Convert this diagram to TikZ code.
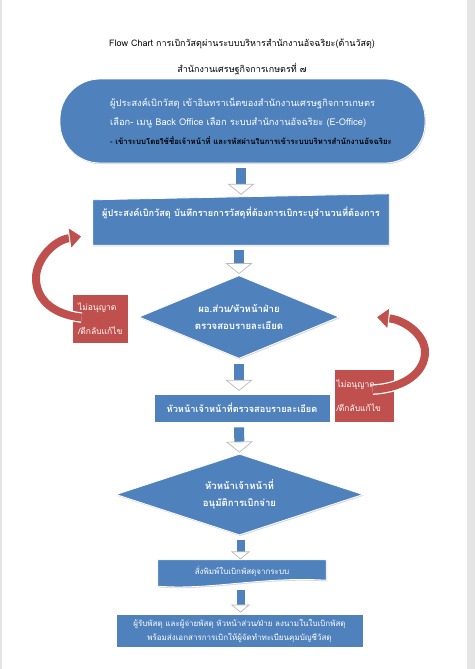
\documentclass[tikz,border=0pt]{standalone}
\usepackage{fontspec}
\newfontfamily\thaifont[Script=Thai]{Loma}
\usepackage{tikz}
\usetikzlibrary{arrows.meta,backgrounds,calc,shadows,shapes.geometric}
\definecolor{flowblue}{HTML}{4F81BD}
\definecolor{flowred}{HTML}{C0504D}
\definecolor{pageedge}{HTML}{E4E4E4}
\tikzset{
  softshadow/.style={drop shadow={shadow xshift=0.8pt,shadow yshift=-1.2pt,opacity=0.3}},
  titletext/.style={inner sep=0pt,font=\thaifont\fontsize{9}{10}\selectfont},
  terminal/.style={rectangle,rounded corners=40pt,fill=flowblue,draw=white,line width=0.8pt,softshadow,
    minimum width=365pt,minimum height=84pt,inner sep=0pt,text=white,align=left,
    font=\thaifont\fontsize{9.3}{19}\selectfont},
  stepbox/.style={rectangle,fill=flowblue,draw=white,line width=0.8pt,softshadow,
    inner sep=0pt,text=white,align=center,font=\thaifont\fontsize{9.2}{15}\selectfont\bfseries},
  textonly/.style={rectangle,inner sep=0pt,text=white,align=center,
    font=\thaifont\fontsize{9.2}{15}\selectfont\bfseries},
  decision/.style={diamond,aspect=2.4,fill=flowblue,draw=white,line width=0.8pt,softshadow,
    inner sep=0pt,text=white,align=center,font=\thaifont\fontsize{9.6}{16.5}\selectfont\bfseries},
  rejectbox/.style={rectangle,fill=flowred,draw=white,line width=0.8pt,softshadow,
    inner sep=0pt,text=white,align=left,font=\thaifont\fontsize{8.5}{24}\selectfont},
  downarrow/.style={line width=10pt,draw=flowblue,shorten <=5pt,shorten >=1pt,
    -{Triangle[width=27pt 0,length=11pt 0,fill=white,color=gray!55,line width=0.7pt]},
    preaction={draw=white,line width=11.5pt,-}},
  smallarrow/.style={downarrow,line width=8pt,
    -{Triangle[width=19pt 0,length=8pt 0,fill=white,color=gray!55,line width=0.7pt]},
    preaction={draw=white,line width=9.5pt,-}},
  backarrow/.style={line width=8pt,draw=flowred,
    -{Triangle[width=24pt 0,length=14pt 0,fill=flowred,color=white,line width=1pt]},
    preaction={draw=white,line width=10.5pt,-}}
}
\begin{document}
\begin{tikzpicture}[x=1pt,y=-1pt]
\useasboundingbox (0,0) rectangle (475,669);
% headings
\node[titletext] (title) at (242,44) {Flow Chart การเบิกวัสดุผ่านระบบบริหารสำนักงานอัจฉริยะ(ด้านวัสดุ)};
\node[titletext] (subtitle) at (242,69.5) {สำนักงานเศรษฐกิจการเกษตรที่ ๗};
% steps
\node[terminal] (login) at (242.5,121) {\hspace*{17pt}ผู้ประสงค์เบิกวัสดุ เข้าอินทราเน็ตของสำนักงานเศรษฐกิจการเกษตร\\
  \hspace*{17pt}เลือก- เมนู Back Office เลือก ระบบสำนักงานอัจฉริยะ (E-Office)\\
  \hspace*{17pt}{\color{black}\fontsize{7.8}{8}\selectfont\bfseries - เข้าระบบโดยใช้ชื่อเจ้าหน้าที่ และรหัสผ่านในการเข้าระบบบริหารสำนักงานอัจฉริยะ}};
\node[textonly,minimum width=296pt,minimum height=51pt] (record) at (241,219.5)
  {ผู้ประสงค์เบิกวัสดุ บันทึกรายการวัสดุที่ต้องการเบิกระบุจำนวนที่ต้องการ\\[0pt]};
\node[decision,minimum width=200pt,minimum height=83pt] (review) at (239,317) {ผอ.ส่วน/หัวหน้าฝ่าย\\ตรวจสอบรายละเอียด};
\node[stepbox,minimum width=176pt,minimum height=28pt] (check) at (242,408) {หัวหน้าเจ้าหน้าที่ตรวจสอบรายละเอียด};
\node[decision,minimum width=247pt,minimum height=81pt] (approve) at (239.5,494.5) {หัวหน้าเจ้าหน้าที่\\อนุมัติการเบิกจ่าย};
\node[textonly,font=\thaifont\fontsize{8}{10}\selectfont,minimum width=168pt,minimum height=23pt] (printout) at (242,571.5) {สั่งพิมพ์ใบเบิกพัสดุจากระบบ};
\node[stepbox,font=\thaifont\fontsize{8}{14}\selectfont,minimum width=247pt,minimum height=33pt] (sign) at (239.5,630.5)
  {ผู้รับพัสดุ และผู้จ่ายพัสดุ หัวหน้าส่วน/ฝ่าย ลงนามในใบเบิกพัสดุ\\พร้อมส่งเอกสารการเบิกให้ผู้จัดทำทะเบียนคุมบัญชีวัสดุ};
% rejections
\node[rejectbox,minimum width=56pt,minimum height=49pt,text width=44pt] (rejectone) at (100,318.5) {ไม่อนุญาต\\/ตีกลับแก้ไข};
\node[rejectbox,minimum width=60pt,minimum height=53pt,text width=55pt] (rejecttwo) at (364,395.5) {ไม่อนุญาต\\/ตีกลับแก้ไข};
% page and the shapes behind the text only nodes
\begin{scope}[on background layer]
\fill[pageedge] (0,0) rectangle (475,669);
\fill[white] (1.5,0) rectangle (467,669);
\filldraw[fill=flowblue,draw=white,line width=0.8pt,softshadow] (record.south west) -- (record.south east)
  -- (record.north east) -- ($(record.north west)+(0,6)$) -- cycle;
\filldraw[fill=flowblue,draw=white,line width=0.8pt,softshadow] (printout.north west) -- (printout.north east)
  -- ($(printout.south east)+(0,-3)$) .. controls ($(printout.south)+(20,-7)$) and ($(printout.south)+(-30,7)$)
  .. ($(printout.south west)+(0,3)$) -- cycle;
\end{scope}
% arrows
\draw[downarrow] (record.north |- login.south) -- ($(record.north)+(0,2)$);
\draw[downarrow] (review.north |- record.south) -- (review.north);
\draw[downarrow] (review.south) -- ($(review.south)+(0,33)$);
\draw[downarrow] (review.south |- check.south) -- (approve.north);
\draw[smallarrow] ($(approve.south)+(1,0)$) -- ($(approve.south)+(1,25)$);
\draw[smallarrow] ($(approve.south |- printout.south)+(1,2)$) -- ($(approve.south |- sign.north)+(1,0)$);
\draw[backarrow] ($(rejectone.north west)+(10,24)$) .. controls (50,314) and (35,297) .. (36,276)
  .. controls (38,256) and (56,240) .. ($(record.south west)+(-10,-9)$);
\draw[backarrow] ($(rejecttwo.north west)+(39,21)$) .. controls (405,388) and (425,372) .. (425,352)
  .. controls (425,335) and (405,320) .. ($(review.east)+(36,0)$);
\end{tikzpicture}
\end{document}
